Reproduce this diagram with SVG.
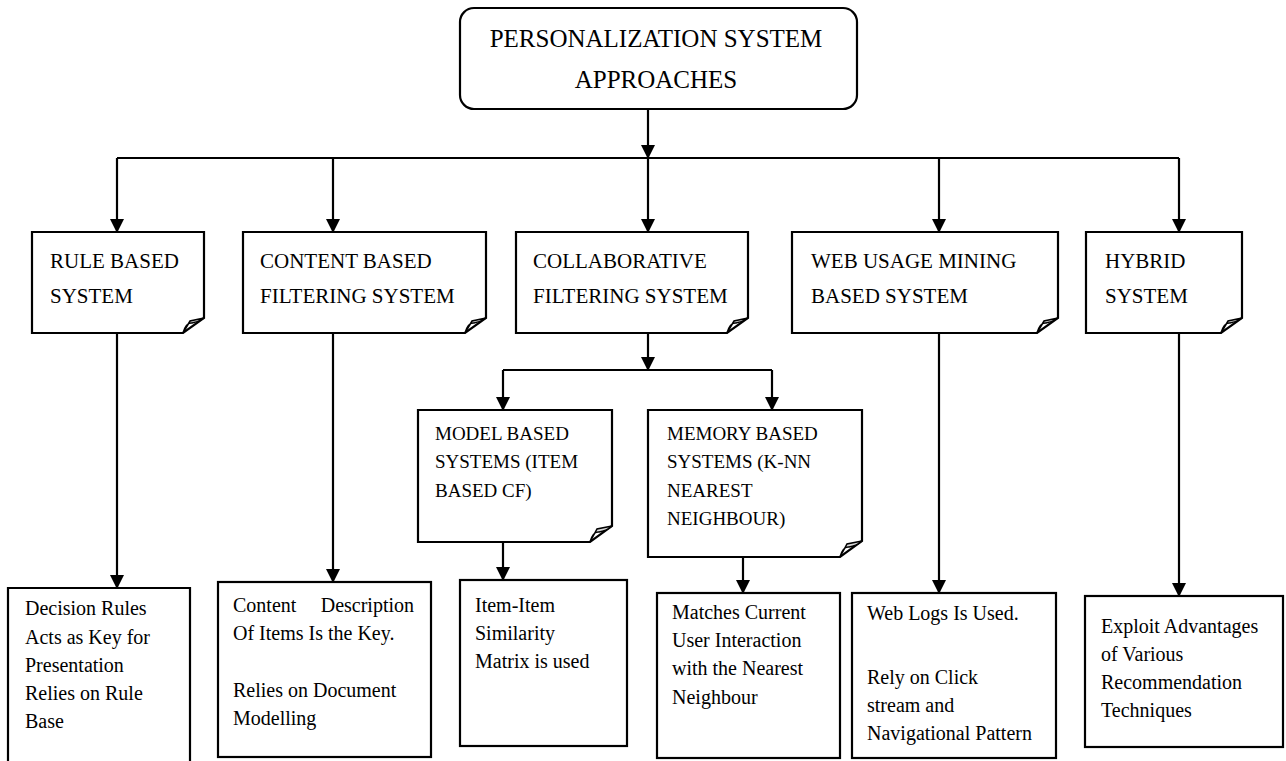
<svg xmlns="http://www.w3.org/2000/svg" width="1286" height="761" viewBox="0 0 1286 761">
<defs>
<marker id="arr" markerUnits="userSpaceOnUse" markerWidth="14" markerHeight="14" viewBox="0 0 14 14" refX="13" refY="7" orient="auto">
<path d="M0,0 L14,7 L0,14 Z" fill="#000"/>
</marker>
</defs>
<style>
.box{fill:#fff;stroke:#000;stroke-width:2.2}
.fold{fill:#d8d8d8;stroke:#000;stroke-width:1.5}
.ln{fill:none;stroke:#000;stroke-width:2.2}
.ar{fill:none;stroke:#000;stroke-width:2.2;marker-end:url(#arr)}
text{font-family:"Liberation Serif","Times New Roman",serif;fill:#000}
.t0{font-size:25px}
.t1{font-size:21px}
.t2{font-size:19px}
.t3{font-size:20px}
</style>
<rect width="1286" height="761" fill="#fff"/>

<g id="connectors">
<path class="ar" d="M648,109 V158"/>
<path class="ln" d="M117,158 H1179"/>
<path class="ar" d="M117,158 V232"/>
<path class="ar" d="M333,158 V232"/>
<path class="ar" d="M648,158 V232"/>
<path class="ar" d="M939,158 V232"/>
<path class="ar" d="M1179,158 V232"/>
<path class="ar" d="M648,333 V370"/>
<path class="ln" d="M503,370 H772"/>
<path class="ar" d="M503,370 V410"/>
<path class="ar" d="M772,370 V410"/>
<path class="ar" d="M117,333 V588"/>
<path class="ar" d="M333,333 V582"/>
<path class="ar" d="M503,542 V580"/>
<path class="ar" d="M743,557 V593"/>
<path class="ar" d="M939,333 V593"/>
<path class="ar" d="M1179,333 V596"/>
</g>

<g id="root">
<rect class="box" x="460" y="8" width="397" height="101" rx="14"/>
<text class="t0" x="656" y="47" text-anchor="middle">PERSONALIZATION SYSTEM</text>
<text class="t0" x="656" y="88" text-anchor="middle">APPROACHES</text>
</g>

<g id="rule">
<path class="box" d="M32,232 H204 V318 L183,333 H32 Z"/>
<path class="fold" d="M183,333 Q186,322 192,323 Q198,322 204,318 L190,321 Z"/>
<text class="t1" x="50" y="268">RULE BASED</text>
<text class="t1" x="50" y="303">SYSTEM</text>
</g>

<g id="content">
<path class="box" d="M243,232 H486 V318 L465,333 H243 Z"/>
<path class="fold" d="M465,333 Q468,322 474,323 Q480,322 486,318 L472,321 Z"/>
<text class="t1" x="260" y="268">CONTENT  BASED</text>
<text class="t1" x="260" y="303">FILTERING SYSTEM</text>
</g>

<g id="collab">
<path class="box" d="M516,232 H748 V318 L727,333 H516 Z"/>
<path class="fold" d="M727,333 Q730,322 736,323 Q742,322 748,318 L734,321 Z"/>
<text class="t1" x="533" y="268">COLLABORATIVE</text>
<text class="t1" x="533" y="303">FILTERING SYSTEM</text>
</g>

<g id="web">
<path class="box" d="M792,232 H1058 V318 L1037,333 H792 Z"/>
<path class="fold" d="M1037,333 Q1040,322 1046,323 Q1052,322 1058,318 L1044,321 Z"/>
<text class="t1" x="811" y="268">WEB USAGE  MINING</text>
<text class="t1" x="811" y="303">BASED SYSTEM</text>
</g>

<g id="hybrid">
<path class="box" d="M1086,232 H1242 V318 L1221,333 H1086 Z"/>
<path class="fold" d="M1221,333 Q1224,322 1230,323 Q1236,322 1242,318 L1228,321 Z"/>
<text class="t1" x="1105" y="268">HYBRID</text>
<text class="t1" x="1105" y="303">SYSTEM</text>
</g>

<g id="model">
<path class="box" d="M418,410 H612 V526 L590,542 H418 Z"/>
<path class="fold" d="M590,542 Q593,531 599,532 Q606,531 612,526 L597,529 Z"/>
<text class="t2" x="435" y="440">MODEL BASED</text>
<text class="t2" x="435" y="468">SYSTEMS (ITEM</text>
<text class="t2" x="435" y="497">BASED CF)</text>
</g>

<g id="memory">
<path class="box" d="M648,410 H862 V541 L840,557 H648 Z"/>
<path class="fold" d="M840,557 Q843,546 849,547 Q856,546 862,541 L847,544 Z"/>
<text class="t2" x="667" y="440">MEMORY BASED</text>
<text class="t2" x="667" y="468">SYSTEMS (K-NN</text>
<text class="t2" x="667" y="497">NEAREST</text>
<text class="t2" x="667" y="525">NEIGHBOUR)</text>
</g>

<g id="rule-desc">
<path class="box" d="M8,775 V588 H190 V775"/>
<text class="t3" x="25" y="615">Decision Rules</text>
<text class="t3" x="25" y="644">Acts as Key for</text>
<text class="t3" x="25" y="672">Presentation</text>
<text class="t3" x="25" y="700">Relies on Rule</text>
<text class="t3" x="25" y="728">Base</text>
</g>

<g id="content-desc">
<rect class="box" x="218" y="582" width="213" height="175"/>
<text class="t3" x="233" y="612">Content</text>
<text class="t3" x="414" y="612" text-anchor="end">Description</text>
<text class="t3" x="233" y="640">Of Items Is the Key.</text>
<text class="t3" x="233" y="697">Relies on Document</text>
<text class="t3" x="233" y="725">Modelling</text>
</g>

<g id="model-desc">
<rect class="box" x="460" y="580" width="167" height="166"/>
<text class="t3" x="475" y="612">Item-Item</text>
<text class="t3" x="475" y="640">Similarity</text>
<text class="t3" x="475" y="668">Matrix is used</text>
</g>

<g id="memory-desc">
<rect class="box" x="657" y="593" width="183" height="165"/>
<text class="t3" x="672" y="619">Matches Current</text>
<text class="t3" x="672" y="647">User Interaction</text>
<text class="t3" x="672" y="675">with the Nearest</text>
<text class="t3" x="672" y="704">Neighbour</text>
</g>

<g id="web-desc">
<rect class="box" x="852" y="593" width="204" height="165"/>
<text class="t3" x="867" y="620">Web Logs Is Used.</text>
<text class="t3" x="867" y="684">Rely on Click</text>
<text class="t3" x="867" y="712">stream and</text>
<text class="t3" x="867" y="740">Navigational Pattern</text>
</g>

<g id="hybrid-desc">
<rect class="box" x="1085" y="596" width="198" height="151"/>
<text class="t3" x="1101" y="633">Exploit Advantages</text>
<text class="t3" x="1101" y="661">of Various</text>
<text class="t3" x="1101" y="689">Recommendation</text>
<text class="t3" x="1101" y="717">Techniques</text>
</g>
</svg>
